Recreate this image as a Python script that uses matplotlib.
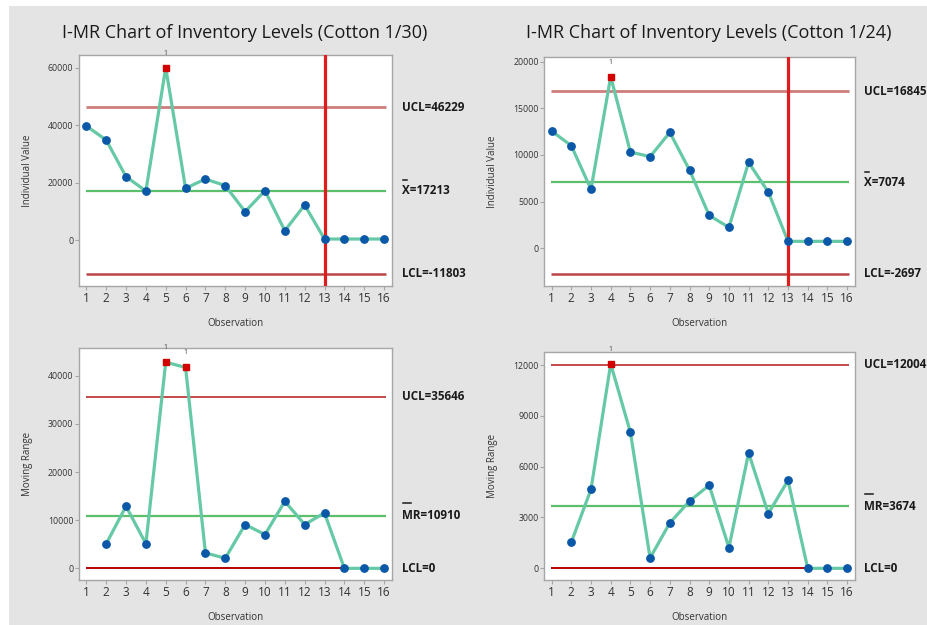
import matplotlib
matplotlib.use("Agg")
import matplotlib.pyplot as plt
from matplotlib.patches import Rectangle
from matplotlib.lines import Line2D
from matplotlib.transforms import blended_transform_factory

plt.rcParams['font.family'] = ['Open Sans', 'DejaVu Sans']

observations = list(range(1, 17))

# Cotton 1/30
ind_130 = [39700, 34800, 22050, 17060, 60000, 17990, 21240, 18920,
           9870, 17180, 3250, 12190, 350, 350, 350, 350]
mr_130 = [None, 5100, 12900, 5100, 42800, 41700, 3200, 2100,
          9100, 7000, 13900, 9100, 11500, 0, 0, 0]
ind_130_limits = {"UCL": 46229, "CL": 17213, "LCL": -11803}
mr_130_limits = {"UCL": 35646, "CL": 10910, "LCL": 0}

# Cotton 1/24
ind_124 = [12570, 11000, 6320, 18390, 10320, 9820, 12420, 8390,
           3530, 2250, 9210, 6030, 750, 750, 750, 750]
mr_124 = [None, 1540, 4660, 12070, 8030, 610, 2680, 3970,
          4900, 1220, 6810, 3230, 5190, 0, 0, 0]
ind_124_limits = {"UCL": 16845, "CL": 7074, "LCL": -2697}
mr_124_limits = {"UCL": 12004, "CL": 3674, "LCL": 0}

titles = ["I-MR Chart of Inventory Levels (Cotton 1/30)",
          "I-MR Chart of Inventory Levels (Cotton 1/24)"]
phase_change = 13

W, H = 928, 625
fig = plt.figure(figsize=(W / 100, H / 100), dpi=100, facecolor="white")
fig.patches.append(Rectangle((9 / W, 0), 1 - 9 / W, 1 - 6 / H,
                             transform=fig.transFigure, facecolor="#e4e4e4",
                             edgecolor="none", zorder=-10))


def px_axes(x0, y0, x1, y1):
    return fig.add_axes([x0 / W, 1 - y1 / H, (x1 - x0) / W, (y1 - y0) / H])


LINE_C = "#66c9a5"
DOT_C = "#0b58a8"
OUT_C = "#d30000"
CL_C = "#5cbf6b"
FRAME_C = "#a6a6a6"
LABEL_SIZE = 8.4

bar_labels = []


def style_axes(ax, ylim, yticks, ylabel):
    ax.set_facecolor("white")
    ax.set_xlim(0.63, 16.4)
    ax.set_ylim(*ylim)
    ax.set_xticks(observations)
    ax.set_yticks(yticks)
    for s in ax.spines.values():
        s.set_color(FRAME_C)
        s.set_linewidth(1.0)
    ax.tick_params(axis="x", labelsize=8.5, length=3, width=0.8,
                   color=FRAME_C, labelcolor="#333333", pad=1.5)
    ax.tick_params(axis="y", labelsize=6.3, length=3, width=0.8,
                   color=FRAME_C, labelcolor="#333333", pad=1)
    ax.set_xlabel("Observation", fontsize=7, color="#333333")
    ax.set_ylabel(ylabel, fontsize=7, color="#333333")
    ax.xaxis.set_label_coords(0.5, -0.14)
    ax.yaxis.set_label_coords(-0.148, 0.5)


def draw_chart(ax, values, limits, ucl_style, lcl_style, cl_name, phase, lx):
    xs = [o for o, v in zip(observations, values) if v is not None]
    ys = [v for v in values if v is not None]
    ax.hlines(limits["UCL"], 0.97, 16.1, colors=ucl_style[0],
              linewidth=ucl_style[1], zorder=2)
    ax.hlines(limits["LCL"], 0.97, 16.1, colors=lcl_style[0],
              linewidth=lcl_style[1], zorder=2)
    ax.hlines(limits["CL"], 0.97, 16.1, colors=CL_C, linewidth=1.6, zorder=2)
    if phase:
        ax.axvline(phase_change, color="#e01d1d", linewidth=2.3, zorder=5)
    ax.plot(xs, ys, color=LINE_C, linewidth=2.3, zorder=3)
    for x, y in zip(xs, ys):
        if y > limits["UCL"]:
            ax.plot(x, y, marker="s", color=OUT_C, markersize=4.8, zorder=6)
            ax.annotate("1", (x, y), xytext=(0, 11), textcoords="offset pixels",
                        ha="center", va="bottom", fontsize=5, color="#444444")
        else:
            ax.plot(x, y, marker="o", color=DOT_C, markersize=5.3, zorder=6)
    tr = blended_transform_factory(ax.transAxes, ax.transData)
    fmt = dict(transform=tr, ha="left", va="center", fontsize=LABEL_SIZE,
               fontweight="bold", color="#1a1a1a")
    ax.text(lx, limits["UCL"], f"UCL={limits['UCL']}", **fmt)
    ax.text(lx, limits["LCL"], f"LCL={limits['LCL']}", **fmt)
    t = ax.text(lx, limits["CL"], f"{cl_name}={limits['CL']}", **fmt)
    bar_labels.append((ax, t, cl_name))


# left column
ax1 = px_axes(79, 55, 392, 285.7)
style_axes(ax1, (-15900, 64400), [0, 20000, 40000, 60000], "Individual Value")
draw_chart(ax1, ind_130, ind_130_limits, ("#cd7d7d", 2.0), ("#b84848", 1.8),
           "X", True, 1.031)

ax2 = px_axes(79, 348.3, 392, 580)
style_axes(ax2, (-2420, 45680), [0, 10000, 20000, 30000, 40000], "Moving Range")
draw_chart(ax2, mr_130, mr_130_limits, ("#c44a4a", 1.4), ("#b80000", 1.4),
           "MR", False, 1.031)

# right column
ax3 = px_axes(544.3, 57.3, 855, 285.7)
style_axes(ax3, (-4000, 20465), [0, 5000, 10000, 15000, 20000], "Individual Value")
draw_chart(ax3, ind_124, ind_124_limits, ("#cd7d7d", 2.0), ("#b84848", 1.8),
           "X", True, 1.028)

ax4 = px_axes(544.3, 351.7, 855, 580)
style_axes(ax4, (-690, 12787), [0, 3000, 6000, 9000, 12000], "Moving Range")
draw_chart(ax4, mr_124, mr_124_limits, ("#c44a4a", 1.4), ("#b80000", 1.4),
           "MR", False, 1.028)

fig.text(245 / W, 1 - 33 / H, titles[0], ha="center", va="center",
         fontsize=13, color="#1a1a1a")
fig.text(709 / W, 1 - 33 / H, titles[1], ha="center", va="center",
         fontsize=13, color="#1a1a1a")

# overbars on the centre-line labels
fig.canvas.draw()
renderer = fig.canvas.get_renderer()
for ax, t, name in bar_labels:
    bb = t.get_window_extent(renderer)
    probe = fig.text(0, 0, name, fontsize=LABEL_SIZE, fontweight="bold")
    w = probe.get_window_extent(renderer).width
    probe.remove()
    frac = 0.55 if name == "X" else 0.45
    gap = 4 if name == "X" else 6
    y = bb.y1 + gap
    fig.add_artist(Line2D([bb.x0 + 1, bb.x0 + 1 + w * frac], [y, y],
                          transform=None, color="#1a1a1a", linewidth=1.1))

fig.savefig("out.png", dpi=100, facecolor=fig.get_facecolor())
